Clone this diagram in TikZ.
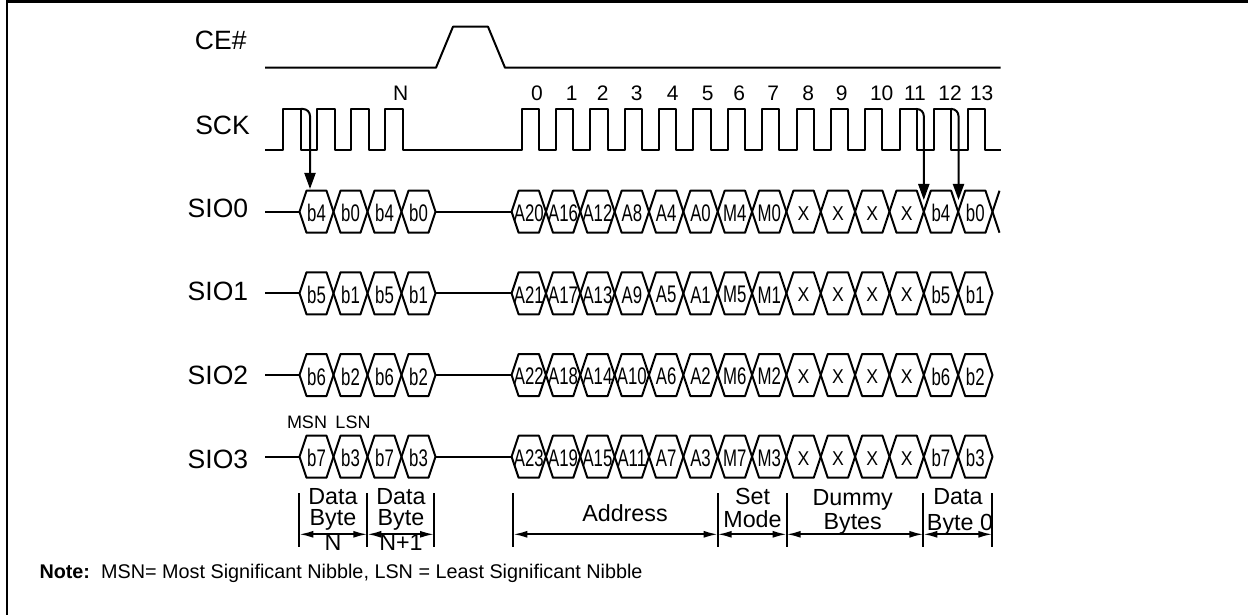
\documentclass[tikz,border=0pt]{standalone}
\usepackage{fontspec}
\setmainfont{Liberation Sans}
\usepackage{graphicx}
\usetikzlibrary{arrows.meta}
\tikzset{
 sig/.style={line width=2pt, line join=round},
 lab/.style={font=\fontsize{26.5}{30}\selectfont, inner sep=0pt, anchor=base east},
 num/.style={font=\fontsize{21}{24}\selectfont, inner sep=0pt, anchor=base},
 hexlab/.style={font=\fontsize{24}{24}\selectfont, inner sep=0pt},
 ann/.style={font=\fontsize{23.3}{26}\selectfont, inner sep=0pt, anchor=base},
 small/.style={font=\fontsize{18}{20}\selectfont, inner sep=0pt, anchor=base},
 dimarrow/.style={line width=1.8pt, {Latex[length=14pt,width=7pt]}-{Latex[length=14pt,width=7pt]}},
 barline/.style={line width=2pt},
 clkarrow/.style={line width=2pt, -{Triangle[length=16pt,width=11pt]}, rounded corners=7pt}
}
\newcommand{\hexcell}[5]{%
 \draw[sig] (#2,#3) -- ++(7,-21) -- ++(#4-14,0) -- ++(7,21) -- ++(-7,21) -- ++(-#4+14,0) -- cycle;
 \node[hexlab] (#1) at (#2+#4/2,#3+1.5) {\scalebox{0.7}[1]{#5}};
}
\newcommand{\xl}{{\fontsize{20}{20}\selectfont\scalebox{1.257}[1]{X}}}
\newcommand{\sigrow}[4]{%
 \draw[sig] (265,#2) -- (299.5,#2) (435.5,#2) -- (511.6,#2);
 \foreach \t [count=\i from 0] in {#3} { \hexcell{#1p\i}{299.5+34*\i}{#2}{34}{\t} }
 \foreach \t [count=\i from 0] in {#4} { \hexcell{#1m\i}{511.6+34.35*\i}{#2}{34.35}{\t} }
}
\begin{document}
\begin{tikzpicture}[x=1pt,y=-1pt]
\useasboundingbox (0,0) rectangle (1251,615);
% frame
\draw[line width=2.5pt] (7,615) -- (7,1.5) -- (1248,1.5);
% labels
\node[lab] (lce) at (246.7,50) {CE\#};
\node[lab] (lsck) at (250,135) {SCK};
\node[lab] (ls0) at (248.3,217.3) {SIO0};
\node[lab] (ls1) at (248.3,300) {SIO1};
\node[lab] (ls2) at (248.3,384) {SIO2};
\node[lab] (ls3) at (248.3,468) {SIO3};
% CE#
\draw[sig] (265,67.7) -- (436,67.7) -- (453,26.7) -- (488,26.7) -- (505,67.7) -- (1000.7,67.7);
% SCK
\draw[sig] (265,150)
  foreach \i in {0,...,3}{ -- (283+34*\i,150) -- (283+34*\i,109) -- (300.5+34*\i,109) -- (300.5+34*\i,150)}
  foreach \i in {0,...,13}{ -- (521.7+34.35*\i,150) -- (521.7+34.35*\i,109) -- (538.9+34.35*\i,109) -- (538.9+34.35*\i,150)}
  -- (1000.7,150);
% clock numbers
\node[num] (nN) at (400.7,100.7) {N};
\foreach \n/\x in {0/537,1/571.7,2/602.7,3/636.7,4/672.7,5/707.7,6/739.3,7/773.3,8/808.3,9/841.7,10/881.7,11/915,12/950,13/981.7}
  \node[num] (n\n) at (\x,101) {\n};
% rows
\sigrow{r0}{211.7}{b4,b0,b4,b0}{A20,A16,A12,A8,A4,A0,M4,M0,\xl,\xl,\xl,\xl,b4,b0}
\sigrow{r1}{293.3}{b5,b1,b5,b1}{A21,A17,A13,A9,A5,A1,M5,M1,\xl,\xl,\xl,\xl,b5,b1}
\sigrow{r2}{375}{b6,b2,b6,b2}{A22,A18,A14,A10,A6,A2,M6,M2,\xl,\xl,\xl,\xl,b6,b2}
\sigrow{r3}{456.7}{b7,b3,b7,b3}{A23,A19,A15,A11,A7,A3,M7,M3,\xl,\xl,\xl,\xl,b7,b3}
\draw[sig] (992.5,211.7) -- (999.5,190.7) (992.5,211.7) -- (999.5,232.7);
% clock arrows
\coordinate (a1s) at (300.5,109); \coordinate (a1e) at (310,189);
\coordinate (a2s) at (916.7,109); \coordinate (a2e) at (923.8,200);
\coordinate (a3s) at (951.1,109); \coordinate (a3e) at (958.5,200);
\draw[clkarrow] (a1s) -| (a1e);
\draw[clkarrow] (a2s) -| (a2e);
\draw[clkarrow] (a3s) -| (a3e);
% MSN LSN
\node[small] (msn) at (307,428.3) {MSN};
\node[small] (lsn) at (353,428.3) {LSN};
% bars
\foreach \k/\x in {b1/299.3,b2/367.3,b3/434,b4/513.3,b5/717.7,b6/786.7,b7/923.3,b8/992.3}{
  \coordinate (\k t) at (\x,493); \coordinate (\k b) at (\x,546.7); \coordinate (\k) at (\x,534.3);
  \draw[barline] (\k t) -- (\k b);
}
\draw[dimarrow] (b1) -- (b2);
\draw[dimarrow] (b2) -- (b3);
\draw[dimarrow] (b4) -- (b5);
\draw[dimarrow] (b5) -- (b6);
\draw[dimarrow] (b6) -- (b7);
\draw[dimarrow] (b7) -- (b8);
% annotations
\node[ann] (t1) at (333,504) {Data};
\node[ann] (t2) at (333,525) {Byte};
\node[ann] (t3) at (333,550) {N};
\node[ann] (t4) at (401,504) {Data};
\node[ann] (t5) at (401,525) {Byte};
\node[ann] (t6) at (401,550) {N+1};
\node[ann] (t7) at (625,521.7) {Address};
\node[ann] (t8) at (752.5,504) {Set};
\node[ann] (t9) at (752.5,527) {Mode};
\node[ann] (t10) at (852.7,505) {Dummy};
\node[ann] (t11) at (852.7,529) {Bytes};
\node[ann] (t12) at (958,504) {Data};
\node[ann] (t13) at (960,530) {Byte 0};
% note
\node[anchor=base west, inner sep=0pt, font=\fontsize{19.8}{22}\selectfont] (note) at (39.3,578)
  {\textbf{Note:}\ \ MSN= Most Significant Nibble, LSN = Least Significant Nibble};
\end{tikzpicture}
\end{document}
